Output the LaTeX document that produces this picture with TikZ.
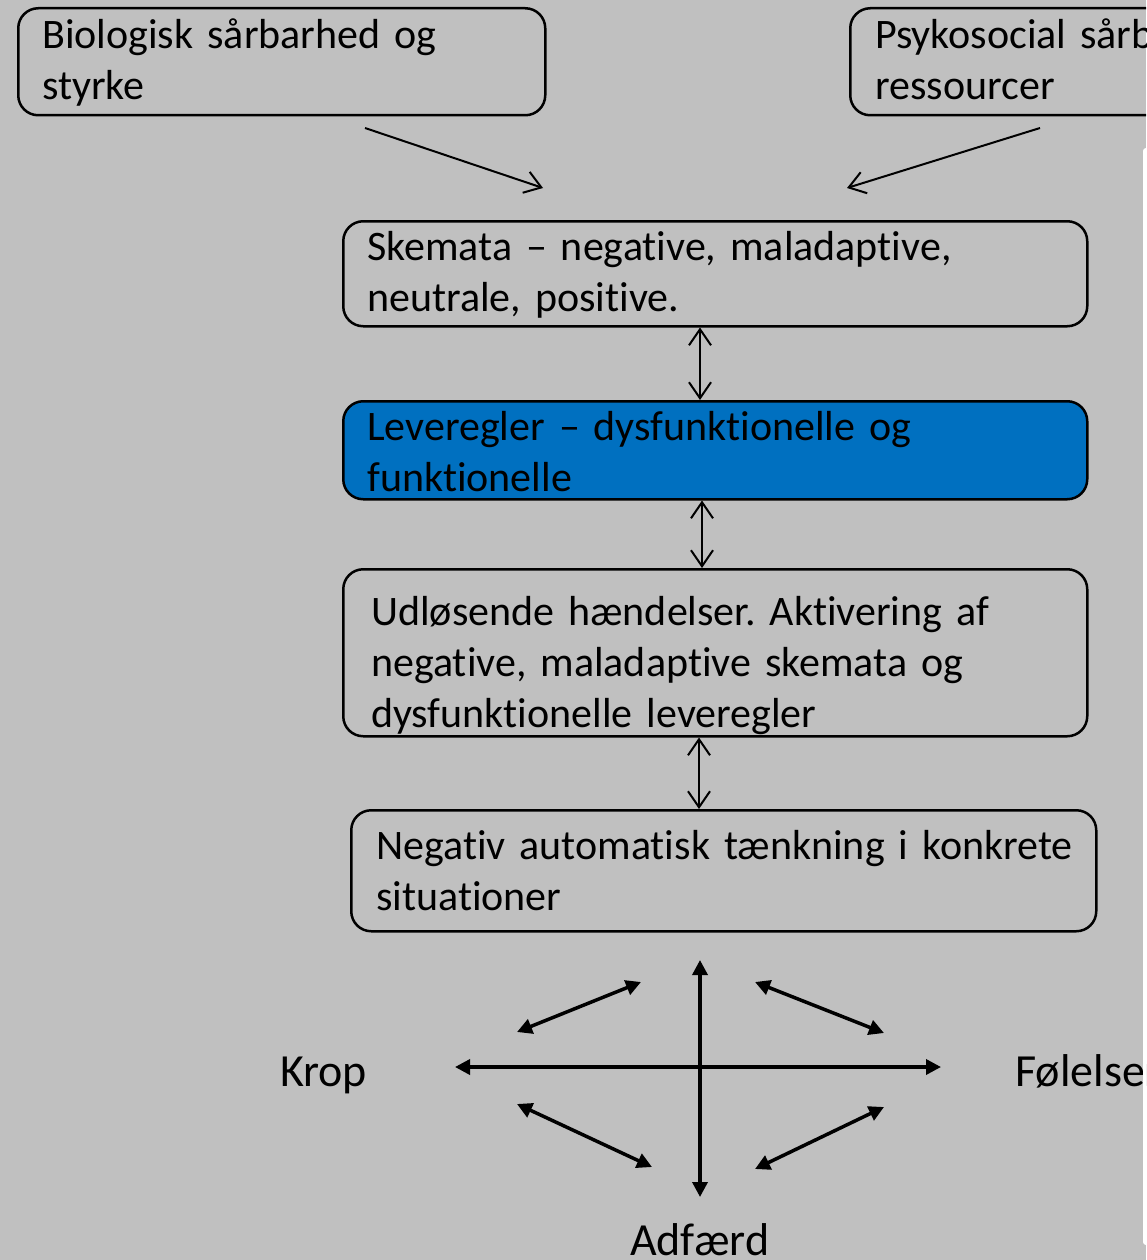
\documentclass[tikz,border=0pt]{standalone}
\usepackage{fontspec}
\setmainfont{Carlito}[Ligatures={NoCommon},WordSpace=0.8]
\frenchspacing
\usetikzlibrary{arrows.meta,calc}
\definecolor{bg}{RGB}{192,192,192}
\definecolor{boxblue}{RGB}{0,112,192}
\tikzset{
  box/.style={draw=black, line width=2.5pt, rounded corners=20pt, inner sep=0pt, anchor=north west},
  boxtext/.style={anchor=base west, inner sep=0pt, align=left, text width=900pt,
    font=\fontsize{42}{51}\selectfont},
  lbl/.style={anchor=base west, inner sep=0pt, font=\fontsize{46}{55}\selectfont},
  thinarrow/.style={line width=2pt, -{Straight Barb[length=16pt,width=22pt]}},
  dblarrow/.style={line width=2pt, {Straight Barb[length=16pt,width=22pt]}-{Straight Barb[length=16pt,width=22pt]}},
  crossarrow/.style={line width=3.5pt, {Triangle[length=15pt,width=15pt]}-{Triangle[length=15pt,width=15pt]}}
}
\begin{document}
\begin{tikzpicture}[x=1pt,y=-1pt]
\clip (0,0) rectangle (1146,1260);
\useasboundingbox (0,0) rectangle (1146,1260);
\fill[bg] (0,0) rectangle (1146,1260);

% boxes
\node[box, minimum width=527pt, minimum height=107pt] (bio) at (17,7) {};
\node[boxtext] (biot) at ($(bio.north west)+(25,42)$) {Biologisk sårbarhed og\\styrke};

\node[box, minimum width=600pt, minimum height=107pt] (psy) at (849,7) {};
\node[boxtext] (psyt) at ($(psy.north west)+(26,42)$) {Psykosocial sårbarhed og\\ressourcer};

\node[box, minimum width=744pt, minimum height=105pt] (skema) at (342,220) {};
\node[boxtext] (skemat) at ($(skema.north west)+(25,40)$) {Skemata – negative, maladaptive,\\neutrale, positive.};

\node[box, fill=boxblue, minimum width=744pt, minimum height=98pt] (lever) at (342,400) {};
\node[boxtext] (levert) at ($(lever.north west)+(25,40)$) {Leveregler – dysfunktionelle og\\funktionelle};

\node[box, minimum width=744pt, minimum height=167pt] (udl) at (342,568) {};
\node[boxtext] (udlt) at ($(udl.north west)+(29,57)$) {Udløsende hændelser. Aktivering af\\negative, maladaptive skemata og\\dysfunktionelle leveregler};

\node[box, minimum width=745pt, minimum height=121pt] (neg) at (350,809) {};
\node[boxtext] (negt) at ($(neg.north west)+(26,50)$) {Negativ automatisk tænkning i konkrete\\situationer};

% top arrows
\coordinate (a1s) at (365,128);
\coordinate (a1e) at (543,188);
\coordinate (a2s) at (1040,128);
\coordinate (a2e) at (847,188);
\draw[thinarrow] (a1s) -- (a1e);
\draw[thinarrow] (a2s) -- (a2e);

% vertical double arrows
\coordinate (colA) at (700,0);
\coordinate (colB) at (702,0);
\coordinate (colC) at (699,0);
\draw[dblarrow] (skema.south -| colA) -- (lever.north -| colA);
\draw[dblarrow] (lever.south -| colB) -- (udl.north -| colB);
\draw[dblarrow] (udl.south -| colC) -- (neg.north -| colC);

% cross
\coordinate (ctop) at (700,960);
\coordinate (cbot) at (700,1197);
\coordinate (clft) at (455,1067);
\coordinate (crgt) at (941,1067);
\draw[crossarrow] (ctop) -- (cbot);
\draw[crossarrow] (clft) -- (crgt);
\coordinate (ul1) at (517,1032); \coordinate (ul2) at (641,982);
\coordinate (ur1) at (755,982);  \coordinate (ur2) at (884,1033);
\coordinate (ll1) at (517,1104); \coordinate (ll2) at (652,1167);
\coordinate (lr1) at (884,1107); \coordinate (lr2) at (755,1169);
\draw[crossarrow] (ul1) -- (ul2);
\draw[crossarrow] (ur1) -- (ur2);
\draw[crossarrow] (ll1) -- (ll2);
\draw[crossarrow] (lr1) -- (lr2);

% labels
\node[lbl] (krop) at (280,1086) {Krop};
\node[lbl] (fol) at (1015,1086) {Følelser};
\node[lbl] (adf) at (630,1255) {Adfærd};

% white panel at right edge
\fill[white, rounded corners=3pt] (1143,148) rectangle (1170,1245);
\end{tikzpicture}
\end{document}
